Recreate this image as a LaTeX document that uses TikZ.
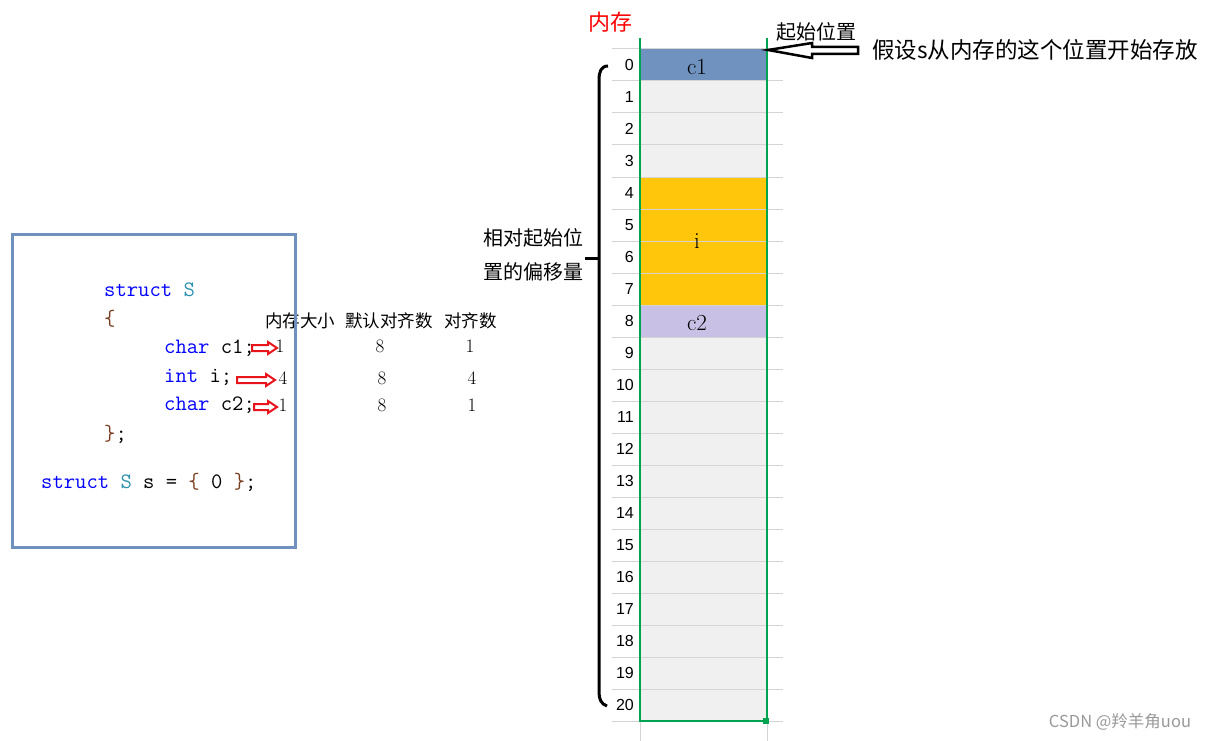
\documentclass[tikz,border=0pt]{standalone}
\usepackage{fontspec}
\newfontfamily\cjk{Noto Sans CJK SC}
\newfontfamily\numfont{Liberation Sans}
\definecolor{boxblue}{RGB}{112,145,190}
\definecolor{c1col}{RGB}{112,146,190}
\definecolor{icol}{RGB}{255,198,11}
\definecolor{c2col}{RGB}{200,193,229}
\definecolor{cellbg}{RGB}{240,240,240}
\definecolor{gridcol}{RGB}{212,212,212}
\definecolor{colgreen}{RGB}{0,163,80}
\definecolor{kwblue}{RGB}{0,0,255}
\definecolor{typeteal}{RGB}{43,145,175}
\definecolor{bracecol}{RGB}{120,60,30}
\definecolor{arrowred}{RGB}{232,20,27}
\tikzset{
  codeline/.style={anchor=base west, inner sep=0pt, font=\ttfamily\fontsize{22}{26}\selectfont},
  tabnum/.style={anchor=base, inner sep=0pt, font=\fontsize{19}{21}\selectfont},
  tabhead/.style={anchor=west, inner sep=0pt, font=\cjk\fontsize{17.5}{20}\selectfont},
  idxlab/.style={anchor=east, inner sep=0pt, font=\numfont\fontsize{16}{18}\selectfont},
  memlab/.style={inner sep=0pt, font=\fontsize{23}{26}\selectfont},
  gridline/.style={draw=gridcol, line width=1pt},
  redarrow/.style={draw=arrowred, fill=white, line width=2pt, line join=miter},
}
\newcommand{\kw}[1]{\textcolor{kwblue}{#1}}
\newcommand{\ty}[1]{\textcolor{typeteal}{#1}}
\newcommand{\br}[1]{\textcolor{bracecol}{#1}}
\begin{document}
\begin{tikzpicture}[x=1pt,y=-1pt]
\useasboundingbox (0,0) rectangle (1210,741);
% code of the struct
\node[codeline] (code1) at (104,296) {\kw{struct} \ty{S}};
\node[codeline] (code2) at (104,325) {\br{\{}};
\node[codeline] (code3) at (164,353) {\kw{char} c1;};
\node[codeline] (code4) at (164,382) {\kw{int} i;};
\node[codeline] (code5) at (164,410) {\kw{char} c2;};
\node[codeline] (code6) at (104,440) {\br{\}};};
\node[codeline] (code7) at (41,488) {\kw{struct} \ty{S} s = \br{\{} 0 \br{\}};};
% table of sizes
\node[tabhead] (head1) at (265,321) {内存大小};
\node[tabhead] (head2) at (345,321) {默认对齐数};
\node[tabhead] (head3) at (444,321) {对齐数};
\foreach \n/\xs/\xd/\xa/\yb/\vs/\va in {1/280/380/470/352/1/1, 2/283/382/472/384/4/4, 3/283/382/472/411/1/1}
{
  \node[tabnum] (size\n) at (\xs,\yb) {\vs};
  \node[tabnum] (def\n) at (\xd,\yb) {8};
  \node[tabnum] (al\n) at (\xa,\yb) {\va};
}
% red hollow arrows
\foreach \xa/\xb/\yy in {252/277/348, 237/275/380, 254/277/407}
{
  \draw[redarrow] (\xb,\yy) -- (\xb-9,\yy-6) -- (\xb-9,\yy-3) -- (\xa,\yy-3) -- (\xa,\yy+3) -- (\xb-9,\yy+3) -- (\xb-9,\yy+6) -- cycle;
}
% code box
\draw[boxblue, line width=3pt] (12,234) rectangle (295,547);
% memory column
\node[text=red, inner sep=0pt, font=\cjk\fontsize{22}{26}\selectfont] (memtitle) at (610,22) {内存};
\fill[cellbg] (640,49) rectangle (767,721);
\fill[c1col] (640,49) rectangle (767,81);
\fill[icol] (640,177) rectangle (767,305);
\fill[c2col] (640,305) rectangle (767,337);
\foreach \k in {0,...,21}
  \draw[gridline] (612,49+32*\k) -- (783,49+32*\k);
\draw[gridline] (640,721) -- (640,741);
\draw[gridline] (767,721) -- (767,741);
\foreach \k in {0,...,20}
  \node[idxlab] (idx\k) at (634,65+32*\k) {\k};
\node[memlab] (cA) at (697,67) {c1};
\node[memlab] (cI) at (697,241) {i};
\node[memlab] (cB) at (697,323) {c2};
\draw[colgreen, line width=2pt] (640,38) -- (640,721) -- (767,721) -- (767,38);
\fill[colgreen] (763,718) rectangle (769,724);
% offset brace
\draw[line width=3pt] (608,66) .. controls (601,66) and (599,72) .. (599,80) -- (599,692)
  .. controls (599,699) and (601,704) .. (607,706);
\draw[line width=3pt] (585,258) -- (599,258);
\node[anchor=west, inner sep=0pt, font=\cjk\fontsize{20}{24}\selectfont] (off1) at (483,238) {相对起始位};
\node[anchor=west, inner sep=0pt, font=\cjk\fontsize{20}{24}\selectfont] (off2) at (483,272) {置的偏移量};
% start position
\node[inner sep=0pt, font=\cjk\fontsize{20}{24}\selectfont] (startlab) at (816,32) {起始位置};
\coordinate (tip) at (768,50);
\draw[line width=2.5pt, fill=white, line join=miter] (tip) -- ++(44,-7) -- ++(0,4) -- ++(46,0) -- ++(0,7) -- ++(-46,0) -- ++(0,4) -- cycle;
\node[anchor=west, inner sep=0pt, font=\cjk\fontsize{22.5}{26}\selectfont] (note) at (872,50) {假设s从内存的这个位置开始存放};
\node[text=gray!80, inner sep=0pt, font=\cjk\fontsize{16.5}{19}\selectfont] (mark) at (1120,722) {CSDN @羚羊角uou};
\end{tikzpicture}
\end{document}
